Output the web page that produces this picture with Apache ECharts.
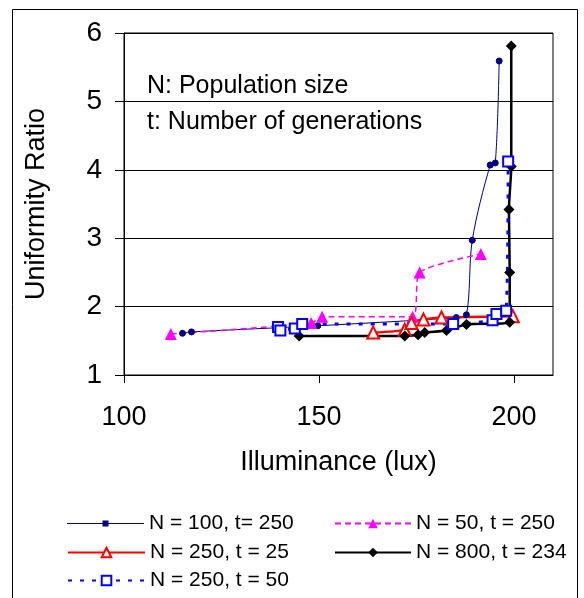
<!DOCTYPE html>
<html>
<head>
<meta charset="utf-8">
<script src="https://cdn.jsdelivr.net/npm/echarts@6/dist/echarts.min.js"></script>
<style>
html,body{margin:0;padding:0;background:#fff;}
#chart{width:584px;height:598px;}
</style>
</head>
<body>
<div id="chart"></div>
<script>
// Data: [illuminance (lux), uniformity ratio]
const seriesNames = ['N = 100, t= 250', 'N = 50, t = 250', 'N = 250, t = 25', 'N = 800, t = 234', 'N = 250, t = 50'];
const n100t250 = [[115.0,1.61],[117.3,1.63],[149.7,1.72],[185.2,1.84],[187.8,1.88],[189.3,2.97],[193.9,4.07],[195.2,4.10],[196.2,5.59]];
const n50t250 = [[112.0,1.60],[148.0,1.76],[150.8,1.85],[174.0,1.85],[175.8,2.50],[191.5,2.77]];
const n250t25 = [[163.9,1.62],[172.0,1.66],[173.7,1.76],[176.8,1.81],[181.4,1.84],[199.7,1.86]];
const n800t234 = [[144.9,1.57],[172.0,1.57],[175.4,1.59],[177.1,1.62],[182.7,1.65],[187.8,1.74],[198.9,1.77],[198.9,2.50],[198.7,3.42],[199.3,4.05],[199.3,5.81]];
const n250t50 = [[139.5,1.70],[140.1,1.65],[143.8,1.68],[145.7,1.745],[184.4,1.745],[194.5,1.80],[195.5,1.89],[198.0,1.94],[198.5,4.12]];
const xTicks = [100, 150, 200];
const annotations = ['N: Population size', 't: Number of generations'];

const FONT = '"Liberation Sans", Arial, sans-serif';
const chart = echarts.init(document.getElementById('chart'), null, {renderer: 'canvas'});

function legendAt(name, left, top, itemWidth, itemHeight, icon) {
  const item = icon ? {name: name, icon: icon, itemStyle: {borderWidth: 0, color: '#000080'}} : name;
  return {
    data: [item], left: left, top: top, orient: 'horizontal',
    itemWidth: itemWidth, itemHeight: itemHeight, padding: 0, selectedMode: false,
    textStyle: {fontFamily: FONT, fontSize: 21, color: '#000'}
  };
}

const option = {
  backgroundColor: '#fff',
  animation: false,
  grid: {left: 124, right: 31, top: 33, bottom: 223, show: true, borderColor: '#000', borderWidth: 1, backgroundColor: 'transparent'},
  xAxis: {
    type: 'value', min: 100, max: 210, interval: 50,
    name: 'Illuminance (lux)', nameLocation: 'middle', nameGap: 74,
    nameTextStyle: {fontFamily: FONT, fontSize: 27, color: '#000'},
    axisLine: {show: true, lineStyle: {color: '#000', width: 1}},
    axisTick: {show: true, length: 8, lineStyle: {color: '#000'}, customValues: xTicks},
    axisLabel: {fontFamily: FONT, fontSize: 27, color: '#000', margin: 29, customValues: xTicks},
    splitLine: {show: false}
  },
  yAxis: {
    type: 'value', min: 1, max: 6, interval: 1,
    name: 'Uniformity Ratio', nameLocation: 'middle', nameGap: 74,
    nameTextStyle: {fontFamily: FONT, fontSize: 27, color: '#000'},
    axisLine: {show: true, lineStyle: {color: '#000', width: 1}},
    axisTick: {show: true, length: 9, lineStyle: {color: '#000'}},
    axisLabel: {fontFamily: FONT, fontSize: 28, color: '#000', margin: 22},
    splitLine: {show: true, lineStyle: {color: '#000', width: 1}}
  },
  legend: [
    legendAt(seriesNames[0], 67, 513, 77, 6, 'path://M0,2.5H77V3.5H0Z M35.5,0H41.5V6H35.5Z'),
    legendAt(seriesNames[1], 334, 513, 76, 12),
    legendAt(seriesNames[2], 67, 542, 77, 12),
    legendAt(seriesNames[3], 334, 542, 76, 12),
    legendAt(seriesNames[4], 67, 570, 77, 12)
  ],
  graphic: [
    {type: 'rect', shape: {x: 12.5, y: 9.5, width: 565, height: 620}, style: {fill: 'none', stroke: '#000', lineWidth: 1}, silent: true},
    {type: 'text', left: 147, top: 74, style: {text: annotations[0], font: '25px ' + FONT, fill: '#000'}},
    {type: 'text', left: 147, top: 110, style: {text: annotations[1], font: '25px ' + FONT, fill: '#000'}}
  ],
  series: [
    {
      name: seriesNames[0], type: 'line', data: n100t250, smooth: 0.3,
      symbol: 'circle', symbolSize: 6,
      lineStyle: {color: '#000080', width: 1},
      itemStyle: {color: '#000080', borderColor: '#000080', borderWidth: 1}
    },
    {
      name: seriesNames[1], type: 'line', data: n50t250, smooth: 0.2,
      symbol: 'triangle', symbolSize: 12,
      lineStyle: {color: '#FF00FF', width: 1.5, type: [6, 4]},
      itemStyle: {color: '#FF00FF'}
    },
    {
      name: seriesNames[2], type: 'line', data: n250t25, smooth: 0.2,
      symbol: 'triangle', symbolSize: 12,
      lineStyle: {color: '#FF0000', width: 2.5},
      itemStyle: {color: '#FFFFFF', borderColor: '#FF0000', borderWidth: 2}
    },
    {
      name: seriesNames[3], type: 'line', data: n800t234, smooth: 0.2,
      symbol: 'diamond', symbolSize: 11,
      lineStyle: {color: '#000000', width: 2.5},
      itemStyle: {color: '#000000'}
    },
    {
      name: seriesNames[4], type: 'line', data: n250t50, smooth: 0.2,
      symbol: 'rect', symbolSize: 10,
      lineStyle: {color: '#0000FF', width: 3, type: [4, 8]},
      itemStyle: {color: '#FFFFFF', borderColor: '#0000FF', borderWidth: 2}
    }
  ]
};
chart.setOption(option);
</script>
</body>
</html>
